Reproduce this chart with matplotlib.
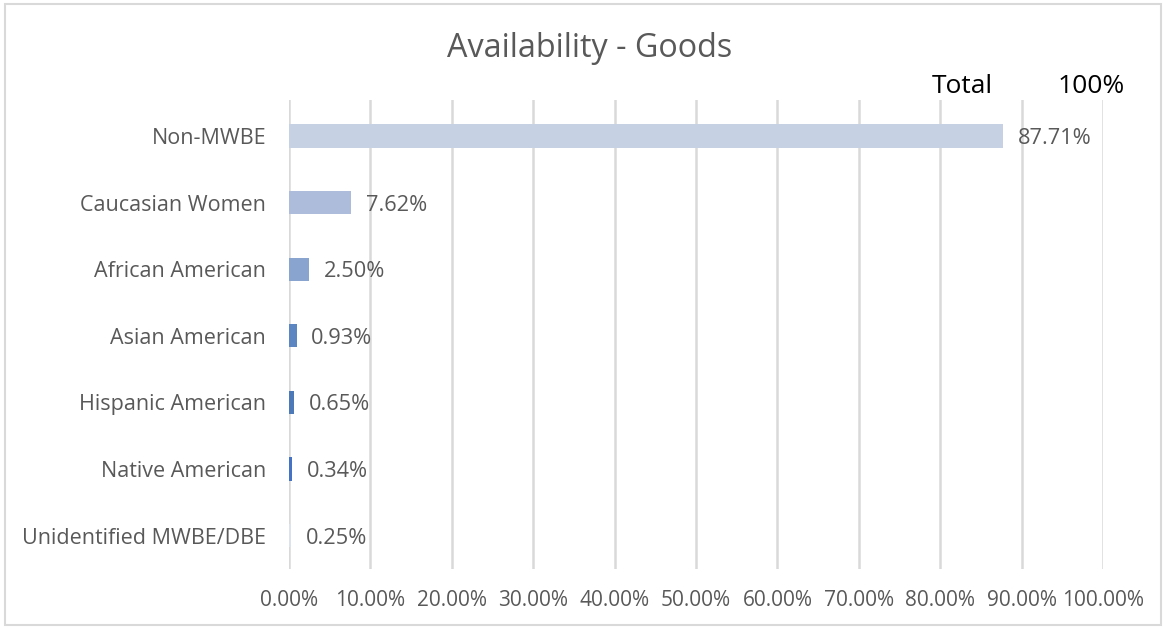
import matplotlib.pyplot as plt
from matplotlib.patches import Rectangle

categories = ["Non-MWBE", "Caucasian Women", "African American", "Asian American",
              "Hispanic American", "Native American", "Unidentified MWBE/DBE"]
values = [87.71, 7.62, 2.50, 0.93, 0.65, 0.34, 0.25]
colors = ["#C6D1E4", "#ADBCDA", "#8AA4D0", "#5B86C2", "#4D79B8", "#4472C4", "#DDE3EC"]
ticks = list(range(0, 101, 10))
tick_labels = [f"{t:.2f}%" for t in ticks]

plt.rcParams["font.family"] = ["Open Sans", "DejaVu Sans"]

fig = plt.figure(figsize=(11.66, 6.28), dpi=100)
fig.patches.append(Rectangle((0.004, 0.004), 0.992, 0.99, transform=fig.transFigure,
                             fill=False, edgecolor="#D9D9D9", linewidth=1.5))
ax = fig.add_axes([0.2479, 0.094, 0.6981, 0.7468])

y = list(range(len(categories)))
ax.barh(y, values, height=0.35, color=colors, zorder=3)
for yi, v in zip(y, values):
    ax.text(v + 1.8, yi, f"{v:.2f}%", va="center_baseline", ha="left", fontsize=15.7,
            color="#595959", zorder=4)

ax.set_xlim(0, 100)
ax.set_ylim(6.5, -0.54)
ax.set_yticks(y)
ax.set_yticklabels(categories, fontsize=15.5, color="#595959")
ax.set_xticks(ticks)
ax.set_xticklabels(tick_labels, fontsize=15, color="#595959")
ax.tick_params(axis="both", length=0)
ax.tick_params(axis="x", pad=15)
ax.tick_params(axis="y", pad=16.5)
ax.grid(axis="x", color="#D9D9D9", linewidth=1.8, zorder=0)
for s in ax.spines.values():
    s.set_visible(False)

fig.text(0.506, 0.922, "Availability - Goods", ha="center", va="center", fontsize=23.3, color="#595959")
fig.text(0.825, 0.862, "Total", ha="center", va="center", fontsize=19, color="black")
fig.text(0.936, 0.862, "100%", ha="center", va="center", fontsize=19, color="black")

fig.savefig("out.png", dpi=100)
